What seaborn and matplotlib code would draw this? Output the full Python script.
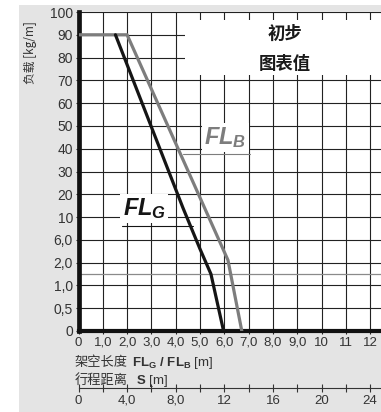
import numpy as np
import pandas as pd
import matplotlib
matplotlib.use("Agg")
import matplotlib.pyplot as plt
from matplotlib.patches import Rectangle
import seaborn as sns

sns.set_style("white")
plt.rcParams['font.family'] = ['Liberation Sans', 'Noto Sans CJK SC', 'DejaVu Sans']
plt.rcParams['mathtext.fontset'] = 'custom'
plt.rcParams['mathtext.rm'] = 'Liberation Sans'
plt.rcParams['mathtext.bf'] = 'Liberation Sans:bold'
plt.rcParams['mathtext.it'] = 'Liberation Sans:italic:bold'

# --- datos ---
y_ticks = [0, 0.5, 1.0, 2.0, 6.0, 10, 20, 30, 40, 50, 60, 70, 80, 90, 100]
y_labels = ['0', '0,5', '1,0', '2,0', '6,0', '10', '20', '30', '40', '50',
            '60', '70', '80', '90', '100']
x_ticks = list(range(13))
x_labels = ['0', '1,0', '2,0', '3,0', '4,0', '5,0', '6,0', '7,0', '8,0', '9,0',
            '10', '11', '12']
s_ticks = [0, 4, 8, 12, 16, 20, 24]
s_labels = ['0', '4,0', '8,0', '12', '16', '20', '24']
s_minor = [2, 6, 10, 14, 18, 22]
y_extra = 1.5  # linea gris auxiliar

fl_g_len = [1.52, 4.3, 5.0, 5.45, 5.97]
fl_g_load = [90, 14, 4.4, 1.5, 0]
fl_b_len = [0, 2.0, 6.15, 6.72]
fl_b_load = [90, 90, 2.45, 0]

df_g = pd.DataFrame({'len': fl_g_len, 'load': fl_g_load})
df_b = pd.DataFrame({'len': fl_b_len, 'load': fl_b_load})

W, H = 381, 412
fig = plt.figure(figsize=(W / 100, H / 100), dpi=100, facecolor='white')
# panel gris de fondo
fig.patches.append(Rectangle((19 / W, 0), 1, 1 - 5 / H, transform=fig.transFigure,
                             facecolor='#e4e4e4', edgecolor='none', zorder=-5))

ax = fig.add_axes([78.5 / W, 1 - 331 / H, (W - 78.5) / W, (331 - 12) / H])
ax.set_zorder(2)
ax.set_facecolor('white')

# escala no lineal del eje Y (etiquetas equidistantes)
idx = np.arange(len(y_ticks), dtype=float)
def fwd(v):
    return np.interp(v, y_ticks, idx)
def inv(i):
    return np.interp(i, idx, y_ticks)
ax.set_yscale('function', functions=(fwd, inv))
ax.set_ylim(0, 100)
x_max = (W - 78.5) / 24.3
ax.set_xlim(0, x_max)

ax.set_yticks(y_ticks)
ax.set_yticklabels(y_labels)
ax.set_xticks(x_ticks)
ax.set_xticklabels(x_labels)

ax.set_axisbelow(True)
ax.grid(True, which='major', color='#222222', lw=0.8)
ax.hlines(y_extra, 0, x_max, color='#8a8a8a', lw=0.9, zorder=0.6)

sns.lineplot(data=df_b, x='len', y='load', sort=False, estimator=None,
             color='#7d7d7d', lw=2.3, ax=ax, zorder=3)
sns.lineplot(data=df_g, x='len', y='load', sort=False, estimator=None,
             color='#151515', lw=2.3, ax=ax, zorder=4)
ax.set_xlabel('')
ax.set_ylabel('')
ax.set_xlim(0, x_max)

for side in ['top', 'right']:
    ax.spines[side].set_visible(False)
ax.spines['left'].set_linewidth(3.4)
ax.spines['bottom'].set_linewidth(3.0)
ax.spines['left'].set_color('#111111')
ax.spines['bottom'].set_color('#111111')
ax.tick_params(axis='y', which='major', left=True, direction='out', length=2.5,
               width=0.8, color='#222222', labelsize=10, labelcolor='#333333', pad=1.5)
ax.tick_params(axis='x', which='major', bottom=True, direction='out', length=2.5,
               width=0.8, color='#222222', labelsize=9.5, labelcolor='#333333', pad=1.5)

# cuadro del titulo
ax.add_patch(Rectangle((0.353, 0.804), 0.7, 0.171, transform=ax.transAxes,
                       facecolor='white', edgecolor='none', zorder=2))
ax.text(0.683, 0.93, '初步', transform=ax.transAxes, ha='center', va='center',
        fontsize=12.5, fontweight='bold', family=['Noto Sans CJK SC'], color='#1a1a1a', zorder=5)
ax.text(0.683, 0.837, '图表值', transform=ax.transAxes, ha='center', va='center',
        fontsize=12.5, fontweight='bold', family=['Noto Sans CJK SC'], color='#1a1a1a', zorder=5)

# etiquetas de las curvas
ax.text(6.05, 45, r'$\mathit{FL}_{\mathit{B}}$', ha='center', va='center', fontsize=17,
        color='#7d7d7d', zorder=5,
        bbox=dict(facecolor='white', edgecolor='none', pad=1.5))
ax.plot([0.347, 0.568], [0.5545, 0.5545], transform=ax.transAxes, color='#7d7d7d',
        lw=0.8, zorder=5)
ax.text(2.7, 13.6, r'$\mathit{FL}_{\mathit{G}}$', ha='center', va='center', fontsize=17,
        color='#151515', zorder=5,
        bbox=dict(facecolor='white', edgecolor='none', pad=1.5))
ax.plot([0.145, 0.38], [0.33, 0.33], transform=ax.transAxes, color='#151515',
        lw=0.8, zorder=5)

# eje secundario: recorrido S = 2 * FL
sec = ax.secondary_xaxis(-(388 - 331) / (331 - 12), functions=(lambda x: 2 * x, lambda s: s / 2))
sec.set_xticks(s_ticks)
sec.set_xticklabels(s_labels)
sec.set_xticks(s_minor, minor=True)
sec.spines['bottom'].set_color('#333333')
sec.spines['bottom'].set_linewidth(0.8)
sec.tick_params(which='both', direction='inout', length=6, width=0.8, color='#333333',
                labelsize=9.5, labelcolor='#333333', pad=2)

# textos de los ejes
cjk = ['Noto Sans CJK SC']
fig.text(30 / W, 1 - 53 / H, '负载 [kg/m]', rotation=90, ha='center', va='center',
         fontsize=8.5, family=cjk, color='#333333')
fig.text(75 / W, 1 - 366 / H, '架空长度', ha='left', va='baseline', fontsize=9.5,
         family=cjk, color='#333333')
fig.text(132 / W, 1 - 366 / H, r'$\mathbf{FL}_{\mathbf{G}}$ $\mathbf{/}$ $\mathbf{FL}_{\mathbf{B}}$ [m]',
         ha='left', va='baseline', fontsize=9.5, color='#333333')
fig.text(75 / W, 1 - 384 / H, '行程距离', ha='left', va='baseline', fontsize=9.5,
         family=cjk, color='#333333')
fig.text(136 / W, 1 - 384 / H, r'$\mathbf{S}$ [m]', ha='left', va='baseline',
         fontsize=9.5, color='#333333')

fig.savefig('out.png', dpi=100, facecolor='white')
